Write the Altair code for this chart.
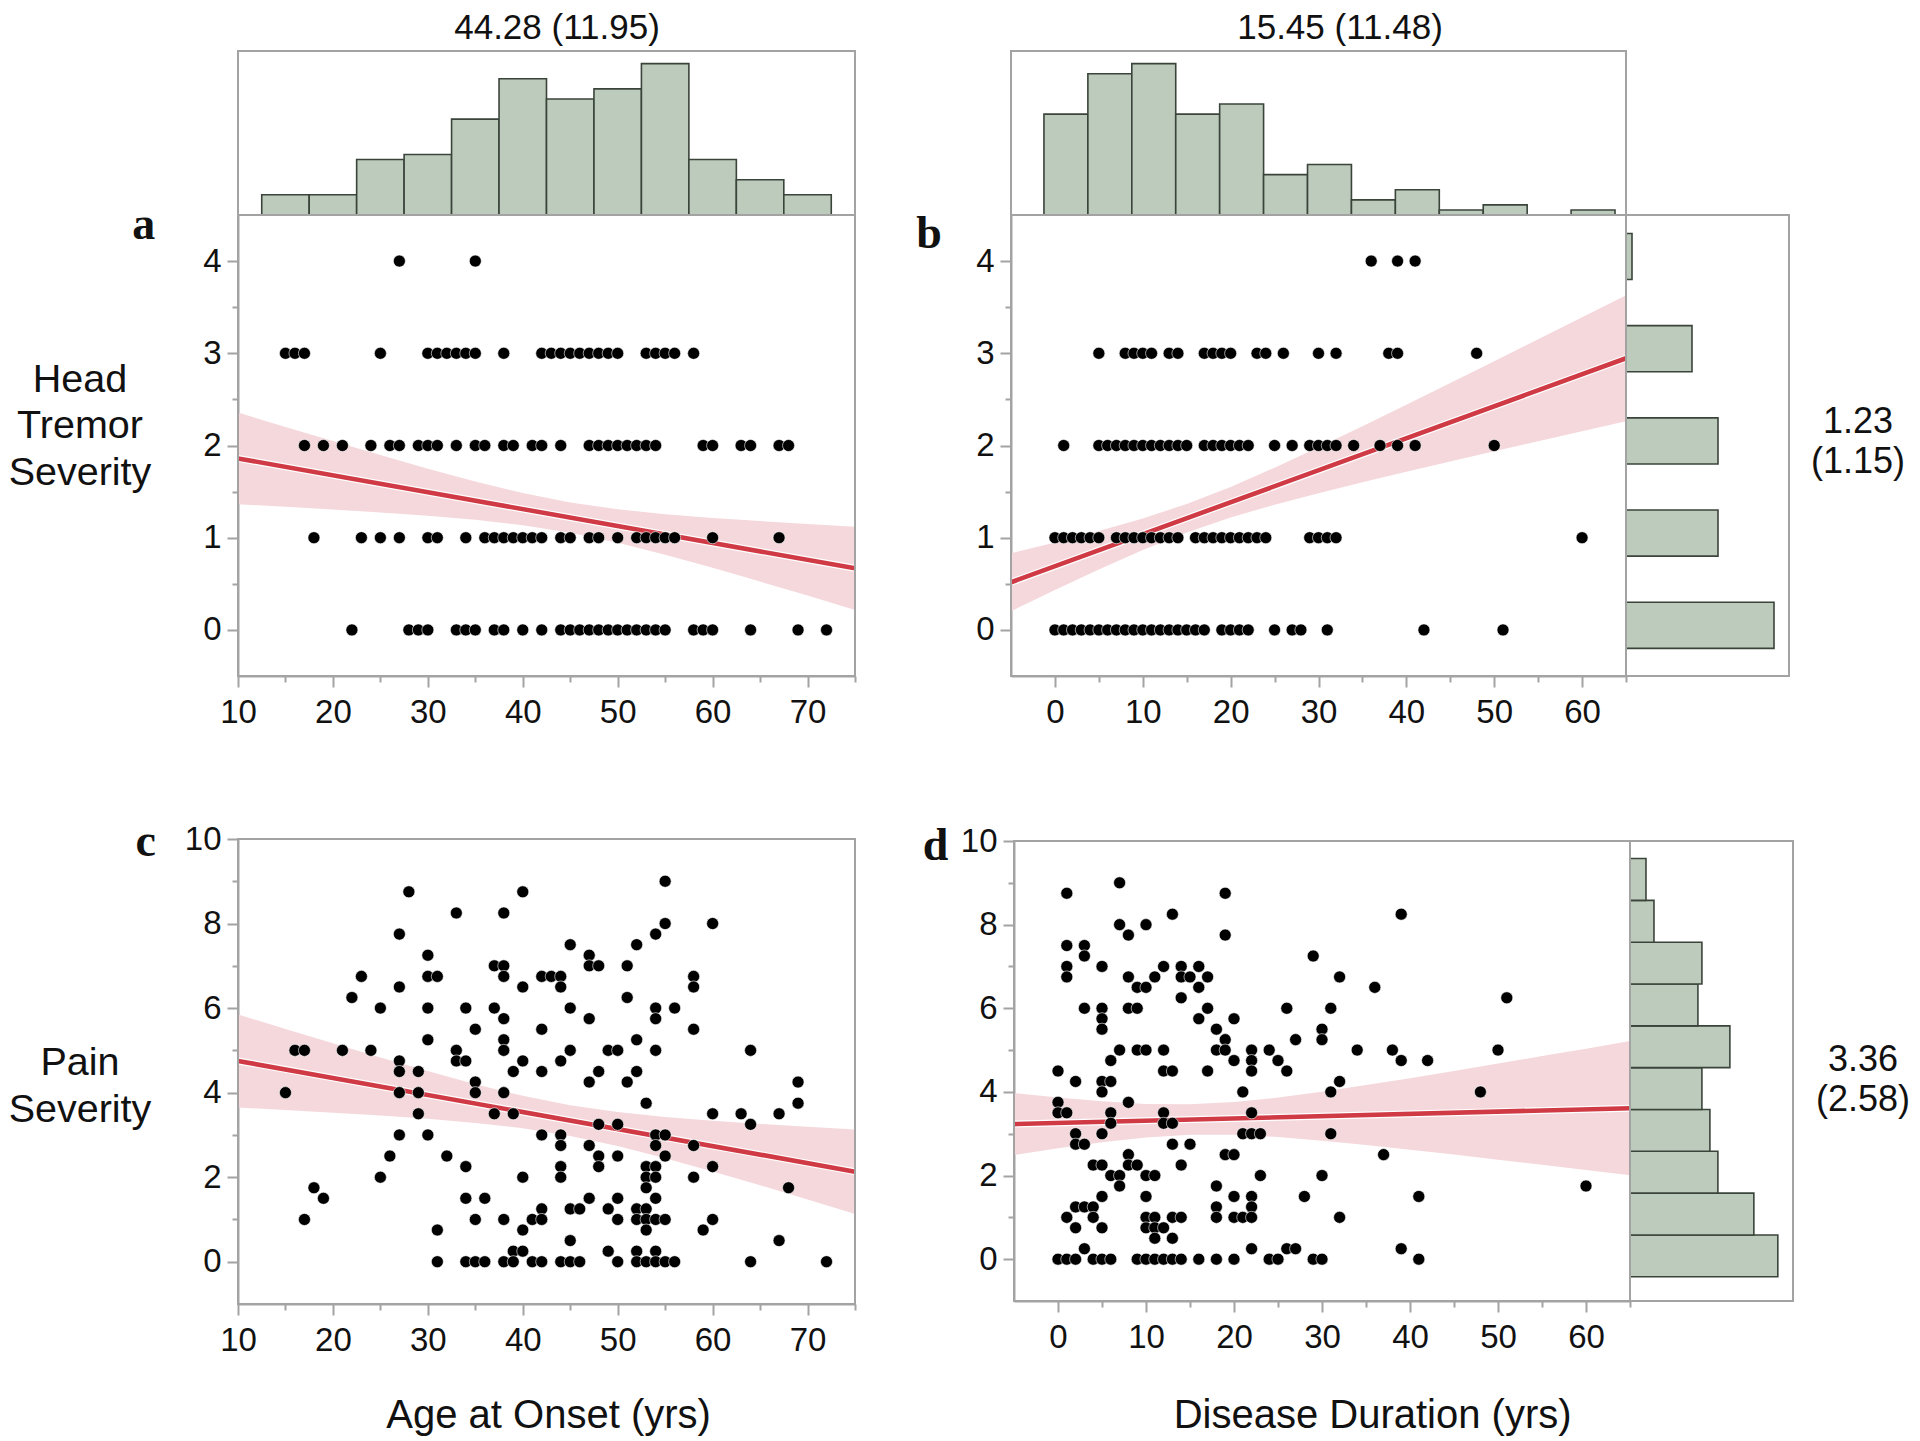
import altair as alt
import pandas as pd

# ---------------- values ----------------
# Panel a: head tremor severity (rows) vs age at onset (yrs)
a_sev4 = [27, 35]
a_sev3 = [15, 16, 17, 25, 30, 31, 32, 33, 34, 35, 38, 42, 43, 44, 45, 46, 47, 48, 49, 50, 53, 54, 55, 56, 58]
a_sev2 = [17, 19, 21, 24, 26, 27, 29, 30, 31, 33, 35, 36, 38, 39, 41, 42, 44, 47, 48, 49, 50, 51, 52, 53, 54,
          59, 60, 63, 64, 67, 68]
a_sev1 = [18, 23, 25, 27, 30, 31, 34, 36, 37, 38, 39, 40, 41, 42, 44, 45, 47, 48, 50, 52, 53, 54, 55, 56, 60, 67]
a_sev0 = [22, 28, 29, 30, 33, 34, 35, 37, 38, 40, 42, 44, 45, 46, 47, 48, 49, 50, 51, 52, 53, 54, 55, 58, 59,
          60, 64, 69, 72]

# Panel b: head tremor severity (rows) vs disease duration (yrs)
b_sev4 = [36, 39, 41]
b_sev3 = [5, 8, 9, 10, 11, 13, 14, 17, 18, 19, 20, 23, 24, 26, 30, 32, 38, 39, 48]
b_sev2 = [1, 5, 6, 7, 8, 9, 10, 11, 12, 13, 14, 15, 17, 18, 19, 20, 21, 22, 25, 27, 29, 30, 31, 32, 34, 37,
          39, 41, 50]
b_sev1 = [0, 1, 2, 3, 4, 5, 7, 8, 9, 10, 11, 12, 13, 14, 16, 17, 18, 19, 20, 21, 22, 23, 24, 29, 30, 31, 32, 60]
b_sev0 = [0, 1, 2, 3, 4, 5, 6, 7, 8, 9, 10, 11, 12, 13, 14, 15, 16, 17, 19, 20, 21, 22, 25, 27, 28, 31, 42, 51]

# Panel c: pain severity vs age at onset
c_age = [28, 40, 33, 38, 27, 30, 23, 30, 31, 37, 38, 38, 42, 27, 40, 22, 25, 30, 34, 37, 38, 35, 42, 30, 38,
         16, 17, 21, 24, 33, 38, 27, 33, 34, 40, 27, 29, 39, 42, 35, 15, 27, 29, 35, 38, 29, 37, 39, 27, 30,
         42, 26, 32, 34, 25, 40, 18, 19, 34, 36, 42, 17, 35, 38, 41, 42, 31, 40, 39, 40, 31, 34, 35, 36, 38,
         39, 41, 42,
         55, 55, 60, 54, 45, 52, 47, 47, 48, 51, 43, 44, 58, 44, 58, 51, 45, 54, 56, 47, 54, 58, 52, 45, 49,
         50, 54, 64, 44, 48, 52, 47, 51, 69, 53, 69, 60, 63, 67, 48, 50, 64, 44, 54, 55, 44, 47, 54, 58, 48,
         50, 55, 44, 48, 53, 54, 60, 44, 53, 54, 58, 53, 68, 47, 50, 54, 45, 46, 49, 52, 53, 50, 52, 53, 54,
         55, 60, 53, 59, 45, 67, 49, 52, 54, 44, 45, 46, 50, 52, 53, 54, 55, 56, 64, 72]
c_pain = [8.75, 8.75, 8.25, 8.25, 7.75, 7.25, 6.75, 6.75, 6.75, 7.0, 7.0, 6.75, 6.75, 6.5, 6.5, 6.25, 6.0, 6.0,
          6.0, 6.0, 5.75, 5.5, 5.5, 5.25, 5.25, 5.0, 5.0, 5.0, 5.0, 5.0, 5.0, 4.75, 4.75, 4.75, 4.75, 4.5,
          4.5, 4.5, 4.5, 4.25, 4.0, 4.0, 4.0, 4.0, 4.0, 3.5, 3.5, 3.5, 3.0, 3.0, 3.0, 2.5, 2.5, 2.25, 2.0, 2.0,
          1.75, 1.5, 1.5, 1.5, 1.25, 1.0, 1.0, 1.0, 1.0, 1.0, 0.75, 0.75, 0.25, 0.25, 0, 0, 0, 0, 0, 0, 0, 0,
          9.0, 8.0, 8.0, 7.75, 7.5, 7.5, 7.25, 7.0, 7.0, 7.0, 6.75, 6.75, 6.75, 6.5, 6.5, 6.25, 6.0, 6.0, 6.0,
          5.75, 5.75, 5.5, 5.25, 5.0, 5.0, 5.0, 5.0, 5.0, 4.75, 4.5, 4.5, 4.25, 4.25, 4.25, 3.75, 3.75, 3.5,
          3.5, 3.5, 3.25, 3.25, 3.25, 3.0, 3.0, 3.0, 2.75, 2.75, 2.75, 2.75, 2.5, 2.5, 2.5, 2.25, 2.25, 2.25,
          2.25, 2.25, 2.0, 2.0, 2.0, 2.0, 1.75, 1.75, 1.5, 1.5, 1.5, 1.25, 1.25, 1.25, 1.25, 1.25, 1.0, 1.0,
          1.0, 1.0, 1.0, 1.0, 0.75, 0.75, 0.5, 0.5, 0.25, 0.25, 0.25, 0, 0, 0, 0, 0, 0, 0, 0, 0, 0, 0]

# Panel d: pain severity vs disease duration
d_dur = [7, 1, 19, 13, 7, 10, 8, 19, 1, 3, 3, 1, 5, 12, 14, 16, 1, 8, 11, 14, 15, 17, 9, 10, 16, 14, 3, 5, 8,
         9, 17, 26, 5, 16, 20, 5, 18, 19, 27, 7, 9, 10, 12, 18, 19, 22, 24, 6, 20, 22, 25, 0, 12, 13, 17, 22,
         26, 2, 5, 6, 5, 21, 0, 8, 0, 1, 6, 12, 22, 6, 12, 13, 2, 5, 21, 22, 23, 2, 3, 13, 15, 8, 19, 20, 4,
         5, 8, 9, 14, 6, 7, 10, 11, 23, 30, 7, 18, 5, 10, 20, 22, 28, 2, 3, 4, 18, 22, 1, 4, 10, 11, 13, 14,
         18, 20, 21, 22, 2, 5, 10, 11, 12, 11, 13, 3, 22, 26, 27,
         0, 1, 2, 4, 5, 6, 9, 10, 11, 12, 13, 14, 16, 18, 20, 24, 25, 29, 30,
         29, 30, 30, 31,
         39, 32, 36, 51, 34, 38, 50, 39, 42, 32, 31, 48, 31, 37, 60, 41, 32, 39, 41]
d_pain = [9.0, 8.75, 8.75, 8.25, 8.0, 8.0, 7.75, 7.75, 7.5, 7.5, 7.25, 7.0, 7.0, 7.0, 7.0, 7.0, 6.75, 6.75,
          6.75, 6.75, 6.75, 6.75, 6.5, 6.5, 6.5, 6.25, 6.0, 6.0, 6.0, 6.0, 6.0, 6.0, 5.75, 5.75, 5.75, 5.5,
          5.5, 5.25, 5.25, 5.0, 5.0, 5.0, 5.0, 5.0, 5.0, 5.0, 5.0, 4.75, 4.75, 4.75, 4.75, 4.5, 4.5, 4.5, 4.5,
          4.5, 4.5, 4.25, 4.25, 4.25, 4.0, 4.0, 3.75, 3.75, 3.5, 3.5, 3.5, 3.5, 3.5, 3.25, 3.25, 3.25, 3.0,
          3.0, 3.0, 3.0, 3.0, 2.75, 2.75, 2.75, 2.75, 2.5, 2.5, 2.5, 2.25, 2.25, 2.25, 2.25, 2.25, 2.0, 2.0,
          2.0, 2.0, 2.0, 2.0, 1.75, 1.75, 1.5, 1.5, 1.5, 1.5, 1.5, 1.25, 1.25, 1.25, 1.25, 1.25, 1.0, 1.0,
          1.0, 1.0, 1.0, 1.0, 1.0, 1.0, 1.0, 1.0, 0.75, 0.75, 0.75, 0.75, 0.75, 0.5, 0.5, 0.25, 0.25, 0.25,
          0.25,
          0, 0, 0, 0, 0, 0, 0, 0, 0, 0, 0, 0, 0, 0, 0, 0, 0, 0, 0,
          7.25, 5.5, 5.25, 6.0,
          8.25, 6.75, 6.5, 6.25, 5.0, 5.0, 5.0, 4.75, 4.75, 4.25, 4.0, 4.0, 3.0, 2.5, 1.75, 1.5, 1.0, 0.25, 0]

# Fitted lines and 95% confidence bands
a_line_x = [10, 75]
a_line_y = [1.86, 0.668]
a_ci_x = [10, 15, 20, 25, 30, 35, 40, 45, 50, 55, 60, 65, 70, 75]
a_ci_lo = [1.363, 1.335, 1.306, 1.274, 1.238, 1.195, 1.136, 1.054, 0.946, 0.815, 0.673, 0.524, 0.372, 0.217]
a_ci_hi = [2.357, 2.201, 2.048, 1.896, 1.748, 1.609, 1.484, 1.382, 1.309, 1.255, 1.214, 1.180, 1.148, 1.119]

b_line_x = [-5, 65]
b_line_y = [0.517, 2.946]
b_ci_x = [-5, 0, 5, 10, 15, 20, 25, 30, 35, 40, 45, 50, 55, 60, 65]
b_ci_lo = [0.202, 0.432, 0.656, 0.867, 1.057, 1.219, 1.358, 1.483, 1.601, 1.715, 1.826, 1.937, 2.046, 2.155, 2.263]
b_ci_hi = [0.832, 0.949, 1.073, 1.208, 1.366, 1.551, 1.759, 1.981, 2.210, 2.443, 2.678, 2.915, 3.152, 3.391, 3.629]

c_line_x = [10, 75]
c_line_y = [4.75, 2.131]
c_ci_x = [10, 15, 20, 25, 30, 35, 40, 45, 50, 55, 60, 65, 70, 75]
c_ci_lo = [3.650, 3.590, 3.527, 3.458, 3.380, 3.284, 3.157, 2.977, 2.737, 2.450, 2.137, 1.809, 1.473, 1.132]
c_ci_hi = [5.850, 5.507, 5.167, 4.833, 4.509, 4.201, 3.926, 3.702, 3.540, 3.423, 3.334, 3.258, 3.192, 3.130]

d_line_x = [-5, 65]
d_line_y = [3.23, 3.61]
d_ci_x = [-5, 0, 5, 10, 15, 20, 25, 30, 35, 40, 45, 50, 55, 60, 65]
d_ci_lo = [2.490, 2.650, 2.794, 2.910, 2.976, 2.976, 2.922, 2.835, 2.732, 2.619, 2.501, 2.380, 2.256, 2.131, 2.005]
d_ci_hi = [3.970, 3.865, 3.774, 3.712, 3.702, 3.756, 3.864, 4.005, 4.163, 4.329, 4.502, 4.678, 4.856, 5.035, 5.215]

# Marginal histograms
age_bin_lo = [12.5, 17.5, 22.5, 27.5, 32.5, 37.5, 42.5, 47.5, 52.5, 57.5, 62.5, 67.5]
age_bin_hi = [17.5, 22.5, 27.5, 32.5, 37.5, 42.5, 47.5, 52.5, 57.5, 62.5, 67.5, 72.5]
age_counts = [4, 4, 11, 12, 19, 27, 23, 25, 30, 11, 7, 4]

dur_bin_lo = [-1.25, 3.75, 8.75, 13.75, 18.75, 23.75, 28.75, 33.75, 38.75, 43.75, 48.75, 53.75, 58.75]
dur_bin_hi = [3.75, 8.75, 13.75, 18.75, 23.75, 28.75, 33.75, 38.75, 43.75, 48.75, 53.75, 58.75, 63.75]
dur_counts = [20, 28, 30, 20, 22, 8, 10, 3, 5, 1, 2, 0, 1]

tremor_bin_lo = [-0.2, 0.8, 1.8, 2.8, 3.8]
tremor_bin_hi = [0.3, 1.3, 2.3, 3.3, 4.3]
tremor_counts = [74, 46, 46, 33, 3]

pain_bin_lo = [-0.42, 0.58, 1.58, 2.58, 3.58, 4.58, 5.58, 6.58, 7.58, 8.58]
pain_bin_hi = [0.58, 1.58, 2.58, 3.58, 4.58, 5.58, 6.58, 7.58, 8.58, 9.58]
pain_counts = [37, 31, 22, 20, 18, 25, 17, 18, 6, 4]

# Summary labels
age_summary = "44.28 (11.95)"
dur_summary = "15.45 (11.48)"
tremor_summary = "1.23\n(1.15)"
pain_summary = "3.36\n(2.58)"

# ---------------- styling / layout ----------------
W, H = 1904, 1433
SANS = "Liberation Sans"
SERIF = "Liberation Serif"
GRAY = "#a3a3a3"
RED = "#cf3a45"
BAND = "#f5d8dc"
HIST_FILL = "#bccbbb"
HIST_STROKE = "#3b443b"
TXT = "#111111"


def sc(domain, rng):
    return alt.Scale(domain=domain, range=rng, nice=False, zero=False)


def major_axis(orient, offset, values, pad):
    return alt.Axis(orient=orient, offset=offset, values=values, title=None, grid=False,
                    domain=True, domainColor=GRAY, domainWidth=2,
                    ticks=True, tickColor=GRAY, tickWidth=2, tickSize=11,
                    labelFont=SANS, labelFontSize=33, labelColor=TXT, labelPadding=pad,
                    labelFlush=False, labelOverlap=False, format="d")


def minor_axis(orient, offset, values):
    return alt.Axis(orient=orient, offset=offset, values=values, title=None, grid=False,
                    domain=False, ticks=True, tickColor=GRAY, tickWidth=2, tickSize=6, labels=False)


def frame(xs, ys, xd, yd, xaxis=None, yaxis=None):
    return alt.Chart(pd.DataFrame({"k": [0]})).mark_rect(
        fillOpacity=0, stroke=GRAY, strokeWidth=2
    ).encode(
        x=alt.XDatum(xd[0], type="quantitative", scale=xs, axis=xaxis),
        x2=alt.X2Datum(xd[1]),
        y=alt.YDatum(yd[0], type="quantitative", scale=ys, axis=yaxis),
        y2=alt.Y2Datum(yd[1]),
    )


def scatter_panel(df_pts, line_x, line_y, ci_x, ci_lo, ci_hi, xs, ys, xd, yd,
                  x_major, x_minor, y_major, y_minor, x_off, y_off):
    band = alt.Chart(pd.DataFrame({"x": ci_x, "lo": ci_lo, "hi": ci_hi})).mark_area(
        color=BAND, opacity=1
    ).encode(
        x=alt.X("x:Q", scale=xs, axis=major_axis("bottom", x_off, x_major, 9)),
        y=alt.Y("lo:Q", scale=ys, axis=major_axis("left", y_off, y_major, 6)),
        y2="hi:Q",
    )
    ldf = pd.DataFrame({"x": line_x, "y": line_y})
    halo = alt.Chart(ldf).mark_line(color="white", strokeWidth=7).encode(
        x=alt.X("x:Q", scale=xs, axis=None), y=alt.Y("y:Q", scale=ys, axis=None))
    line = alt.Chart(ldf).mark_line(color=RED, strokeWidth=4.6).encode(
        x=alt.X("x:Q", scale=xs, axis=None), y=alt.Y("y:Q", scale=ys, axis=None))
    pts = alt.Chart(df_pts).mark_circle(
        size=145, color="#000000", opacity=1, stroke="white", strokeWidth=0.6
    ).encode(x=alt.X("x:Q", scale=xs, axis=None), y=alt.Y("y:Q", scale=ys, axis=None))
    fr = frame(xs, ys, xd, yd,
               xaxis=minor_axis("bottom", x_off, x_minor),
               yaxis=minor_axis("left", y_off, y_minor))
    return [band, halo, line, pts, fr]


def hist_top(lo, hi, counts, xs, ys, xd, yd):
    bars = alt.Chart(pd.DataFrame({"lo": lo, "hi": hi, "n": counts})).transform_filter(
        "datum.n > 0").mark_rect(fill=HIST_FILL, stroke=HIST_STROKE, strokeWidth=1.6).encode(
        x=alt.X("lo:Q", scale=xs, axis=None), x2="hi:Q",
        y=alt.Y("n:Q", scale=ys, axis=None), y2=alt.Y2Datum(0))
    return [frame(xs, ys, xd, yd), bars]


def hist_right(lo, hi, counts, xs, ys, xd, yd):
    bars = alt.Chart(pd.DataFrame({"lo": lo, "hi": hi, "n": counts})).transform_filter(
        "datum.n > 0").mark_rect(fill=HIST_FILL, stroke=HIST_STROKE, strokeWidth=1.6).encode(
        y=alt.Y("lo:Q", scale=ys, axis=None), y2="hi:Q",
        x=alt.X("n:Q", scale=xs, axis=None), x2=alt.X2Datum(0))
    return [frame(xs, ys, xd, yd), bars]


def label(text, x, y, size, font=SANS, weight="normal", line_height=None):
    mk = dict(align="center", baseline="alphabetic", font=font, fontSize=size,
              fontWeight=weight, color=TXT)
    if "\n" in text:
        mk.update(lineBreak="\n", lineHeight=line_height)
    return alt.Chart(pd.DataFrame({"t": [text]})).mark_text(**mk).encode(
        x=alt.value(x), y=alt.value(y), text="t:N")


def rows_df(rows):
    xs, ys = [], []
    for level, vals in rows:
        xs += vals
        ys += [level] * len(vals)
    return pd.DataFrame({"x": xs, "y": ys})


# scales (pixel ranges place each panel)
ax_s = sc([10, 75], [230, 847]);   ay_s = sc([-0.5, 4.5], [668, 207])
bx_s = sc([-5, 65], [1003, 1618]); by_s = sc([-0.5, 4.5], [668, 207])
cx_s = sc([10, 75], [230, 847]);   cy_s = sc([-1, 10], [1296, 831])
dx_s = sc([-5, 65], [1006, 1622]); dy_s = sc([-1, 10], [1293, 833])
hay_s = sc([0, 32.5], [207, 43])
hby_s = sc([0, 32.5], [207, 43])
rbx_s = sc([0, 81.5], [1618, 1781])
rdx_s = sc([0, 40.8], [1622, 1785])

df_a = rows_df([(4, a_sev4), (3, a_sev3), (2, a_sev2), (1, a_sev1), (0, a_sev0)])
df_b = rows_df([(4, b_sev4), (3, b_sev3), (2, b_sev2), (1, b_sev1), (0, b_sev0)])
df_c = pd.DataFrame({"x": c_age, "y": c_pain})
df_d = pd.DataFrame({"x": d_dur, "y": d_pain})

age_major = [10, 20, 30, 40, 50, 60, 70]
age_minor = [15, 25, 35, 45, 55, 65, 75]
dur_major = [0, 10, 20, 30, 40, 50, 60]
dur_minor = [5, 15, 25, 35, 45, 55, 65]
trem_major = [0, 1, 2, 3, 4]
trem_minor = [0.5, 1.5, 2.5, 3.5]
pain_major = [0, 2, 4, 6, 8, 10]
pain_minor = [1, 3, 5, 7, 9]

layers = []
layers += hist_top(age_bin_lo, age_bin_hi, age_counts, ax_s, hay_s, [10, 75], [0, 32.5])
layers += hist_top(dur_bin_lo, dur_bin_hi, dur_counts, bx_s, hby_s, [-5, 65], [0, 32.5])
layers += hist_right(tremor_bin_lo, tremor_bin_hi, tremor_counts, rbx_s, by_s, [0, 81.5], [-0.5, 4.5])
layers += hist_right(pain_bin_lo, pain_bin_hi, pain_counts, rdx_s, dy_s, [0, 40.8], [-1, 10])

layers += scatter_panel(df_a, a_line_x, a_line_y, a_ci_x, a_ci_lo, a_ci_hi, ax_s, ay_s,
                        [10, 75], [-0.5, 4.5], age_major, age_minor, trem_major, trem_minor,
                        668 - H, -230)
layers += scatter_panel(df_b, b_line_x, b_line_y, b_ci_x, b_ci_lo, b_ci_hi, bx_s, by_s,
                        [-5, 65], [-0.5, 4.5], dur_major, dur_minor, trem_major, trem_minor,
                        668 - H, -1003)
layers += scatter_panel(df_c, c_line_x, c_line_y, c_ci_x, c_ci_lo, c_ci_hi, cx_s, cy_s,
                        [10, 75], [-1, 10], age_major, age_minor, pain_major, pain_minor,
                        1296 - H, -230)
layers += scatter_panel(df_d, d_line_x, d_line_y, d_ci_x, d_ci_lo, d_ci_hi, dx_s, dy_s,
                        [-5, 65], [-1, 10], dur_major, dur_minor, pain_major, pain_minor,
                        1293 - H, -1006)

layers += [
    label(age_summary, 549, 31, 35),
    label(dur_summary, 1332, 31, 35),
    label(tremor_summary, 1850, 424.7, 36, line_height=40),
    label(pain_summary, 1855, 1062.7, 36, line_height=40),
    label("Head\nTremor\nSeverity", 72, 383.7, 39.5, line_height=46.7),
    label("Pain\nSeverity", 72, 1067, 39.5, line_height=47),
    label("Age at Onset (yrs)", 540.6, 1420, 40),
    label("Disease Duration (yrs)", 1364.6, 1420, 40),
    label("a", 135.7, 231.3, 46, font=SERIF, weight="bold"),
    label("b", 921, 240, 46, font=SERIF, weight="bold"),
    label("c", 137.7, 848, 46, font=SERIF, weight="bold"),
    label("d", 927.5, 852, 46, font=SERIF, weight="bold"),
]

chart = alt.layer(*layers).resolve_scale(
    x="independent", y="independent"
).resolve_axis(
    x="independent", y="independent"
).properties(
    width=W, height=H, autosize=alt.AutoSizeParams(type="none"), padding=0, background="white"
).configure_view(stroke=None)

chart.save("out.html", embed_options={"renderer": "svg", "actions": False})
